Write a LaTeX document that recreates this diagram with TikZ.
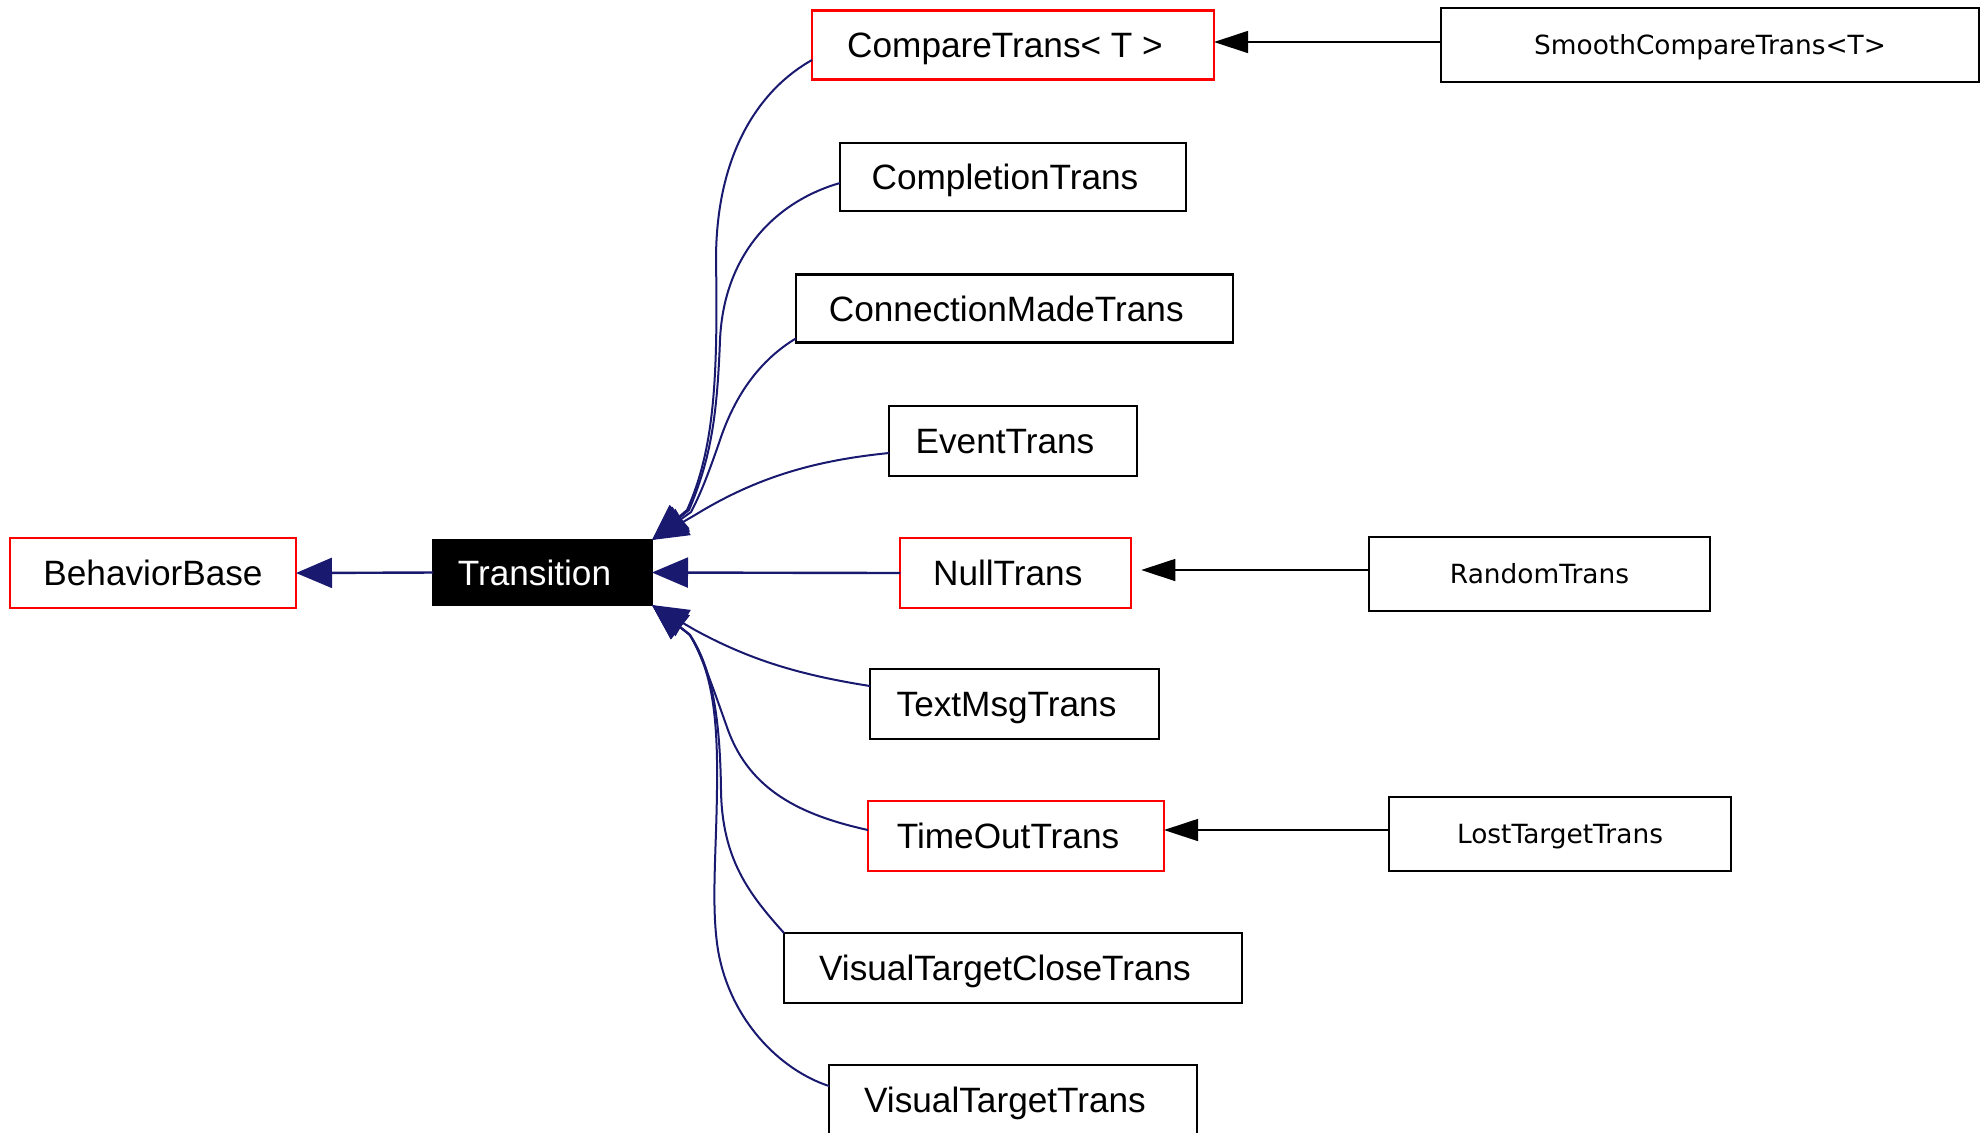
\documentclass[tikz,border=0pt]{standalone}
\usepackage{fontspec}
\setmainfont{Liberation Sans}
\newfontfamily\dejavu{DejaVu Sans}
\usetikzlibrary{arrows.meta,calc}
\definecolor{edgenavy}{HTML}{191970}
\definecolor{boxred}{HTML}{FF0000}
\tikzset{
  mainbox/.style={draw=black, line width=1.1pt, rectangle, inner sep=0pt, outer sep=0pt,
    font=\fontsize{17.6}{20}\selectfont, text height=12.6pt, text depth=0pt},
  redbox/.style={mainbox, draw=boxred},
  leftshift/.style={execute at begin node={\hspace*{-8pt}}},
  smallbox/.style={draw=black, line width=0.6pt, rectangle, inner sep=0pt, outer sep=0pt,
    font=\dejavu\fontsize{13.2}{16}\selectfont, text height=9.6pt, text depth=0pt},
  navyedge/.style={draw=edgenavy, line width=1pt, -{Triangle[length=18pt,width=15pt]}},
  blackedge/.style={draw=black, line width=0.65pt, -{Triangle[length=17pt,width=11pt]}}
}
\begin{document}
\begin{tikzpicture}[x=0.5pt,y=-0.5pt]
\useasboundingbox (0,0) rectangle (1981,1132);
% main column
\node[redbox, minimum width=143pt, minimum height=35pt] (bb) at (153,573) {BehaviorBase};
\node[mainbox, fill=black, text=white, leftshift, minimum width=109.5pt, minimum height=32.5pt] (tr) at (542.5,572.5) {Transition};
\node[redbox, leftshift, minimum width=201pt, minimum height=34.5pt] (cmp) at (1013,45) {CompareTrans< T >};
\node[mainbox, leftshift, minimum width=173pt, minimum height=34pt] (cpl) at (1013,177) {CompletionTrans};
\node[mainbox, leftshift, minimum width=218.5pt, minimum height=34pt] (cmt) at (1014.3,308.5) {ConnectionMadeTrans};
\node[mainbox, leftshift, minimum width=124pt, minimum height=35pt] (evt) at (1013,441) {EventTrans};
\node[redbox, leftshift, minimum width=115.5pt, minimum height=35pt] (nul) at (1015.75,573) {NullTrans};
\node[mainbox, leftshift, minimum width=144.5pt, minimum height=35pt] (tmt) at (1014.5,704) {TextMsgTrans};
\node[redbox, leftshift, minimum width=148pt, minimum height=35pt] (tot) at (1016,836) {TimeOutTrans};
\node[mainbox, leftshift, minimum width=229pt, minimum height=35pt] (vtc) at (1013,968) {VisualTargetCloseTrans};
\node[mainbox, leftshift, minimum width=184pt, minimum height=35pt] (vtt) at (1013,1100) {VisualTargetTrans};
% right column
\node[smallbox, minimum width=269pt, minimum height=37pt] (smc) at (1710,45) {SmoothCompareTrans<T>};
\node[smallbox, minimum width=170.5pt, minimum height=37pt] (rnd) at (1539.5,574) {RandomTrans};
\node[smallbox, minimum width=171pt, minimum height=37pt] (lst) at (1560,834) {LostTargetTrans};
% black inheritance arrows
\draw[blackedge] ($(smc.west)+(0,-3)$) -- ($(cmp.east)+(0,-3)$);
\draw[blackedge, shorten >=5pt] ($(rnd.west)+(0,-4)$) -- ($(nul.east)+(0,-3)$);
\draw[blackedge] ($(lst.west)+(0,-4)$) -- ($(tot.east)+(0,-6)$);
% navy edges
\draw[navyedge, line width=1.2pt] (tr.west) -- (bb.east);
\draw[navyedge, line width=1.2pt] (nul.west) -- (tr.east);
\draw[navyedge] ($(cmp.west)+(0,15)$) .. controls (762,88) and (716,150) .. (716,260)
  .. controls (718,380) and (714,450) .. (687,510) -- (tr.north east);
\draw[navyedge] ($(cpl.west)+(0,6)$) .. controls (780,200) and (724,250) .. (720,340)
  .. controls (717,420) and (710,460) .. (689,510) -- (tr.north east);
\draw[navyedge] ($(cmt.west)+(0,30)$) .. controls (760,360) and (735,395) .. (720,440)
  .. controls (708,475) and (700,495) .. (691,512) -- (tr.north east);
\draw[navyedge] ($(evt.west)+(0,12)$) .. controls (820,460) and (760,475) .. (695,515) -- (tr.north east);
\draw[navyedge] ($(tmt.west)+(0,-18)$) .. controls (800,675) and (750,660) .. (695,630) -- (tr.south east);
\draw[navyedge] ($(tot.west)+(0,-6)$) .. controls (800,815) and (750,790) .. (728,730)
  .. controls (712,685) and (700,650) .. (689,634) -- (tr.south east);
\draw[navyedge] (vtc.north west) .. controls (750,895) and (722,860) .. (721,790)
  .. controls (720,710) and (710,665) .. (690,635) -- (tr.south east);
\draw[navyedge] ($(vtt.west)+(0,-14)$) .. controls (780,1070) and (730,1020) .. (718,950)
  .. controls (710,900) and (718,840) .. (717,760)
  .. controls (716,700) and (708,665) .. (690,635) -- (tr.south east);
\end{tikzpicture}
\end{document}
